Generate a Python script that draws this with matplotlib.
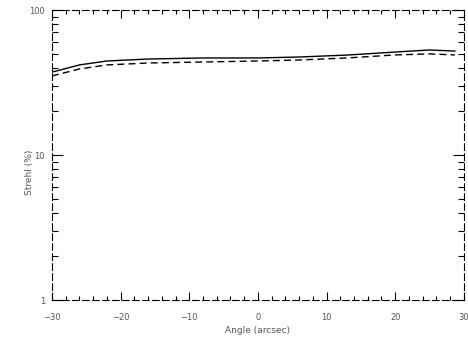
import numpy as np
import matplotlib
matplotlib.use("Agg")
import matplotlib.pyplot as plt
from matplotlib.ticker import FixedLocator, MultipleLocator, LogLocator, NullFormatter

# Strehl ratio vs field angle
angle = [-30, -26, -22, -16, -8, 0, 6, 13, 20, 25, 28.7]
strehl_solid = [37.3, 41.8, 44.5, 45.9, 46.7, 46.7, 47.4, 48.9, 51.3, 53.0, 52.1]
strehl_dashed = [35.1, 39.2, 41.8, 43.1, 43.8, 44.5, 45.2, 46.7, 49.0, 49.8, 49.0]

xticks = [-30, -20, -10, 0, 10, 20, 30]
xticklabels = ['\u221230', '\u221220', '\u221210', '0', '10', '20', '30']
yticks = [1, 10, 100]
yticklabels = ['1', '10', '100']

fig = plt.figure(figsize=(4.68, 3.38), dpi=100)
ax = fig.add_axes([0.111, 0.1124, 0.880, 0.8580])

ax.plot(angle, strehl_solid, color='black', lw=1.0, ls='-')
ax.plot(angle, strehl_dashed, color='black', lw=1.0, ls=(0, (5, 3)))

ax.set_yscale('log')
ax.set_xlim(-30, 30)
ax.set_ylim(1, 100)

ax.xaxis.set_major_locator(FixedLocator(xticks))
ax.set_xticklabels(xticklabels)
ax.xaxis.set_minor_locator(MultipleLocator(2))
ax.yaxis.set_major_locator(FixedLocator(yticks))
ax.set_yticklabels(yticklabels)
ax.yaxis.set_minor_locator(LogLocator(base=10, subs=np.arange(2, 10)))
ax.yaxis.set_minor_formatter(NullFormatter())

txt = '#555555'
ax.tick_params(which='both', direction='in', top=True, right=True,
               color='black', width=0.8, labelsize=6, labelcolor=txt)
ax.tick_params(axis='x', which='major', length=6, pad=9)
ax.tick_params(axis='x', which='minor', length=3)
ax.tick_params(axis='y', which='major', length=8, pad=5)
ax.tick_params(axis='y', which='minor', length=4)

for sp in ax.spines.values():
    sp.set_linestyle((0, (6, 3)))
    sp.set_linewidth(0.8)
    sp.set_color('black')

ax.set_xlabel('Angle (arcsec)', fontsize=6.5, color=txt, labelpad=3)
ax.set_ylabel('Strehl (%)', fontsize=6.5, color=txt)
ax.yaxis.set_label_coords(-0.043, 0.44)

fig.savefig('out.png', dpi=100)
